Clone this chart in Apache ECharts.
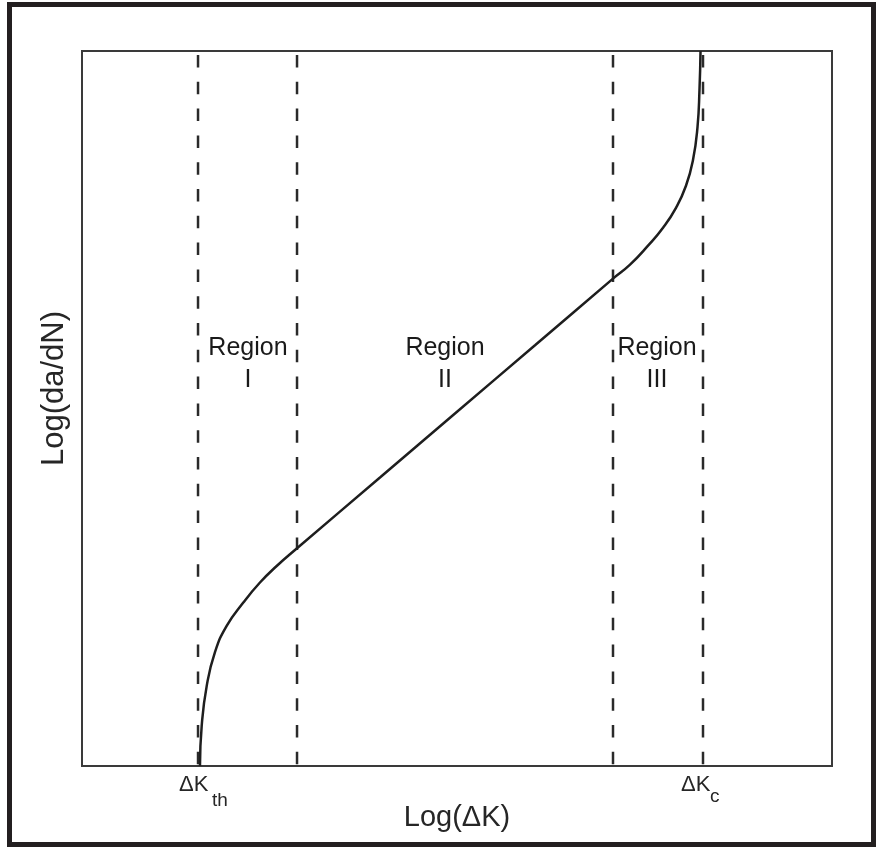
<!DOCTYPE html>
<html>
<head>
<meta charset="utf-8">
<script src="https://cdn.jsdelivr.net/npm/echarts@6/dist/echarts.min.js"></script>
<style>
html,body{margin:0;padding:0;background:#fff;}
#main{width:876px;height:847px;}
</style>
</head>
<body>
<div id="main"></div>
<script>
// Schematic fatigue crack growth curve (arbitrary units 0..100 on both axes)
var curveX = [15.73, 15.96, 16.63, 17.73, 19.29, 21.51, 23.73, 25.96, 28.67, 39.73, 49.73, 60.40, 70.80, 73.07, 75.47, 77.47, 79.20, 80.53, 81.47, 82.07, 82.33, 82.47];
var curveY = [0, 5.63, 11.21, 15.92, 19.59, 22.86, 25.66, 27.97, 30.45, 40.35, 49.30, 58.84, 68.16, 70.11, 72.77, 75.28, 78.07, 81.15, 84.78, 89.39, 94.55, 100];
// Region boundaries (dashed lines)
var boundaryX = [15.47, 28.67, 70.80, 82.80];
// Region labels
var regionNames = ['Region\nI', 'Region\nII', 'Region\nIII'];
var regionLabelX = [22.13, 48.40, 76.67];
var regionLabelY = [56.2, 56.2, 56.2];
// Threshold / critical labels on x axis
var kLabelMain = ['\u0394K', '\u0394K'];
var kLabelSub = ['th', 'c'];
var kLabelX = [15.47, 82.80];
var xTitle = 'Log(\u0394K)';
var yTitle = 'Log(da/dN)';

var FONT = '"Liberation Sans", Arial, sans-serif';
var chart = echarts.init(document.getElementById('main'), null, {renderer: 'canvas'});

var curveData = curveX.map(function (x, i) { return [x, curveY[i]]; });
var series = [];
boundaryX.forEach(function (x) {
  series.push({
    type: 'line', silent: true, symbol: 'none', animation: false,
    data: [[x, 100], [x, 0]],
    lineStyle: {color: '#2a2a2a', width: 2.5, type: [12.5, 14.3], dashOffset: 22.8}
  });
});
series.push({
  type: 'line', silent: true, symbol: 'none', animation: false,
  smooth: 0.5,
  data: curveData,
  lineStyle: {color: '#1e1e1e', width: 2.5}
});
series.push({
  type: 'scatter', silent: true, symbolSize: 0, animation: false,
  data: regionLabelX.map(function (x, i) { return {value: [x, regionLabelY[i]], name: regionNames[i]}; }),
  label: {
    show: true, position: 'inside', formatter: function (p) { return p.name; },
    fontFamily: FONT, fontSize: 25, lineHeight: 32, color: '#1a1a1a', align: 'center'
  },
  itemStyle: {opacity: 1}
});

chart.setOption({
  animation: false,
  backgroundColor: '#fff',
  grid: {left: 82, right: 44, top: 51, bottom: 81, show: true, borderColor: '#3a3a3a', borderWidth: 2, backgroundColor: 'transparent'},
  xAxis: {
    type: 'value', min: 0, max: 100,
    axisLine: {show: false}, axisTick: {show: false}, axisLabel: {show: false}, splitLine: {show: false},
    name: xTitle, nameLocation: 'middle', nameGap: 37,
    nameTextStyle: {fontFamily: FONT, fontSize: 29, color: '#262626'}
  },
  yAxis: {
    type: 'value', min: 0, max: 100,
    axisLine: {show: false}, axisTick: {show: false}, axisLabel: {show: false}, splitLine: {show: false},
    name: yTitle, nameLocation: 'middle', nameGap: 12,
    nameTextStyle: {fontFamily: FONT, fontSize: 31, color: '#262626', padding: [0, 0, 0, 40], verticalAlign: 'bottom'}
  },
  series: series
});

// Outer frame and axis-position labels (positioned through the axis scale)
var graphics = [{
  type: 'rect', silent: true,
  shape: {x: 9.5, y: 4.5, width: 864, height: 840},
  style: {fill: null, stroke: '#231f20', lineWidth: 5}
}];
var mainSize = 22, subSize = 19;
kLabelX.forEach(function (x, i) {
  var p = chart.convertToPixel({gridIndex: 0}, [x, 0]);
  var offs = i === 0 ? -19 : -22;
  var baseMain = p[1] + 27;
  var baseSub = p[1] + (i === 0 ? 41 : 37);
  graphics.push({
    type: 'text', silent: true, x: p[0] + offs, y: baseMain - 0.35 * mainSize,
    style: {text: kLabelMain[i], fontFamily: FONT, fontSize: mainSize, fill: '#262626', align: 'left', verticalAlign: 'middle'}
  });
  graphics.push({
    type: 'text', silent: true, x: p[0] + offs + (i === 0 ? 33 : 29), y: baseSub - 0.35 * subSize,
    style: {text: kLabelSub[i], fontFamily: FONT, fontSize: subSize, fill: '#262626', align: 'left', verticalAlign: 'middle'}
  });
});
chart.setOption({graphic: graphics});
</script>
</body>
</html>
